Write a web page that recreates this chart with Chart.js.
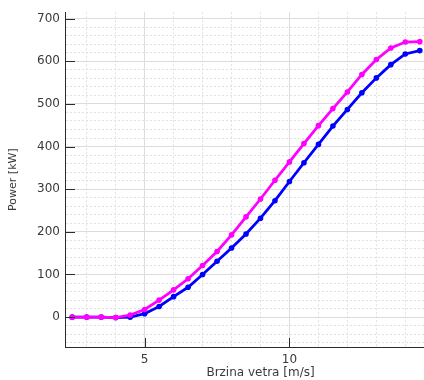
<!DOCTYPE html>
<html>
<head>
<meta charset="utf-8">
<script src="https://cdn.jsdelivr.net/npm/chart.js@4"></script>
<style>
  html, body { margin: 0; padding: 0; background: #fff; }
  #wrap { width: 424px; height: 380px; overflow: hidden; position: relative; }
  canvas { display: block; }
</style>
</head>
<body>
<div id="wrap"><canvas id="powerChart" width="460" height="380"></canvas></div>
<script>
// Power curve: wind speed vs. power, two turbines
const windSpeed = [2.5, 3, 3.5, 4, 4.5, 5, 5.5, 6, 6.5, 7, 7.5, 8, 8.5, 9, 9.5, 10, 10.5, 11, 11.5, 12, 12.5, 13, 13.5, 14, 14.5];
const powerMagenta = [0, 0, 0, -1, 5, 18, 40, 64, 90, 121, 154, 193, 235, 277, 321, 364, 407, 449, 489, 528, 569, 604, 631, 645, 646];
const powerBlue = [0, 0, 0, -1, 0, 8, 25, 48, 70, 100, 131, 162, 195, 232, 273, 318, 362, 405, 448, 487, 526, 561, 592, 617, 625];

const xLabelTicks = [5, 10, 15];
const yLabelTicks = [0, 100, 200, 300, 400, 500, 600, 700];

const axisColor = '#2b2b2b';
const textColor = '#3a3a3a';
const fontFamily = "'DejaVu Sans', Verdana, sans-serif";

function toPoints(ys) {
    return windSpeed.map((x, i) => ({ x: x, y: ys[i] }));
}

// MATLAB-style inward tick marks
const inwardTicks = {
    id: 'inwardTicks',
    afterDraw(chart) {
        const { ctx, scales: { x, y } } = chart;
        ctx.save();
        ctx.strokeStyle = axisColor;
        ctx.lineWidth = 1;
        ctx.beginPath();
        yLabelTicks.forEach(v => {
            const py = Math.round(y.getPixelForValue(v)) + 0.5;
            ctx.moveTo(x.left, py);
            ctx.lineTo(x.left + 10, py);
        });
        xLabelTicks.forEach(v => {
            const px = Math.round(x.getPixelForValue(v)) + 0.5;
            ctx.moveTo(px, y.bottom);
            ctx.lineTo(px, y.bottom - 9);
        });
        ctx.stroke();
        ctx.restore();
    }
};

function lineSet(label, data, color) {
    return {
        label: label,
        data: toPoints(data),
        borderColor: color,
        backgroundColor: color,
        borderWidth: 2.8,
        pointRadius: 2.8,
        pointBorderWidth: 0,
        pointBackgroundColor: color,
        tension: 0,
        fill: false
    };
}

new Chart(document.getElementById('powerChart'), {
    type: 'line',
    data: {
        datasets: [
            lineSet('P1', powerMagenta, '#ff00ff'),
            lineSet('P2', powerBlue, '#0000ff')
        ]
    },
    options: {
        responsive: false,
        animation: false,
        devicePixelRatio: 1,
        layout: { padding: { top: 10, right: 3, left: 0, bottom: 0 } },
        plugins: {
            legend: { display: false },
            tooltip: { enabled: false }
        },
        scales: {
            x: {
                type: 'linear',
                min: 2.25,
                max: 15.75,
                afterFit: s => { s.height = 33; },
                grid: {
                    drawTicks: false,
                    color: ctx => ctx.tick && ctx.tick.value % 5 === 0 ? '#dcdcdc' : '#e0e0e0'
                },
                border: {
                    color: axisColor,
                    width: 1,
                    dash: ctx => (ctx.tick && ctx.tick.value % 5 !== 0) ? [2, 2] : []
                },
                ticks: {
                    stepSize: 1,
                    autoSkip: false,
                    includeBounds: false,
                    maxRotation: 0,
                    padding: 6,
                    color: textColor,
                    font: { family: fontFamily, size: 12 },
                    callback: v => (v % 5 === 0 ? String(v) : '')
                },
                title: {
                    display: true,
                    text: 'Brzina vetra [m/s]',
                    color: textColor,
                    font: { family: fontFamily, size: 12 },
                    padding: { top: 0, bottom: 0 }
                }
            },
            y: {
                type: 'linear',
                min: -70,
                max: 715,
                afterFit: s => { s.width = 65; },
                grid: {
                    drawTicks: false,
                    color: ctx => ctx.tick && ctx.tick.value % 100 === 0 ? '#dcdcdc' : '#e0e0e0'
                },
                border: {
                    color: axisColor,
                    width: 1,
                    dash: ctx => (ctx.tick && ctx.tick.value % 100 !== 0) ? [2, 2] : []
                },
                ticks: {
                    stepSize: 20,
                    autoSkip: false,
                    includeBounds: false,
                    padding: 5,
                    color: textColor,
                    font: { family: fontFamily, size: 12 },
                    callback: v => (v % 100 === 0 ? String(v) : '')
                },
                title: {
                    display: true,
                    text: 'Power [kW]',
                    color: textColor,
                    font: { family: fontFamily, size: 11 },
                    padding: { top: 7, bottom: 0 }
                }
            }
        }
    },
    plugins: [inwardTicks]
});
</script>
</body>
</html>
